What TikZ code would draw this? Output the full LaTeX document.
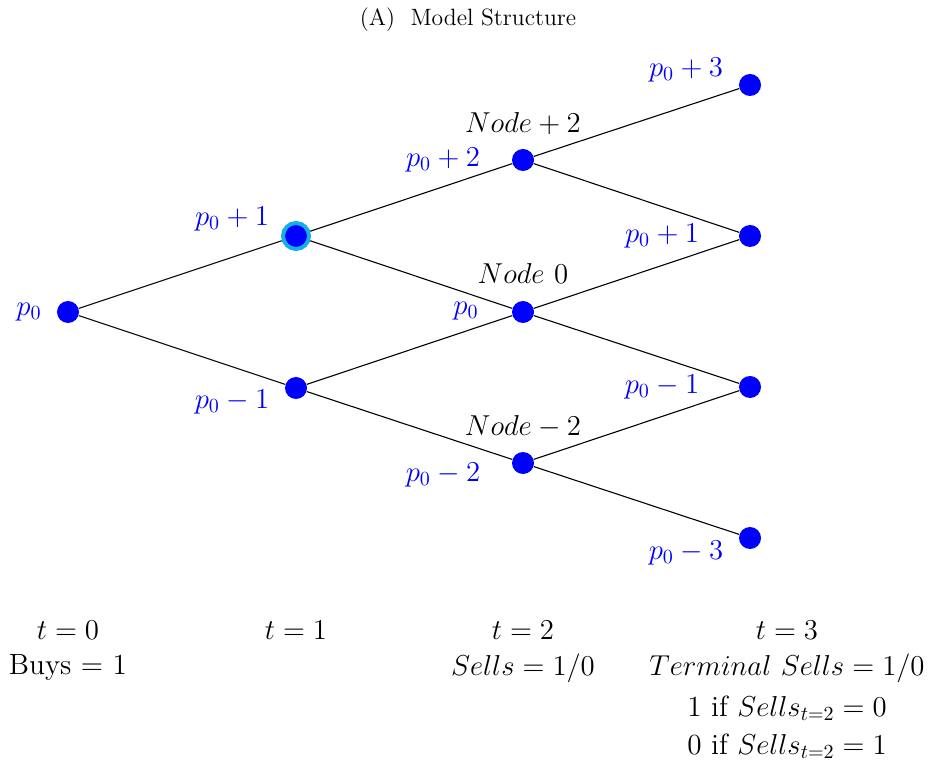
\documentclass[tikz,border=0pt]{standalone}
\usepackage{amsmath}
\begin{document}
\begin{tikzpicture}[x=0.5pt,y=-0.5pt,
  dot/.style={circle,fill=blue,inner sep=0pt,minimum size=11pt},
  hidot/.style={circle,fill=blue,draw={rgb,255:red,20;green,175;blue,230},line width=2pt,inner sep=0pt,minimum size=13pt},
  edge/.style={draw=black,line width=0.55pt},
  plab/.style={text=blue,font=\fontsize{14.8}{17}\selectfont,inner sep=0pt},
  nlab/.style={text=black,font=\fontsize{14.8}{17}\selectfont,inner sep=0pt},
  blab/.style={text=black,font=\fontsize{14.6}{17}\selectfont,inner sep=0pt,align=center}]
\useasboundingbox (0,0) rectangle (929,763);
\node[font=\fontsize{11.8}{14}\selectfont] (title) at (468,20) {(A)\ \ Model Structure};
% nodes
\node[dot] (a) at (68,312) {};
\node[hidot] (b1) at (296,236) {};
\node[dot] (b2) at (296,388) {};
\node[dot] (c1) at (523,160) {};
\node[dot] (c2) at (523,312) {};
\node[dot] (c3) at (523,463) {};
\node[dot] (d1) at (750,85) {};
\node[dot] (d2) at (750,236) {};
\node[dot] (d3) at (750,387) {};
\node[dot] (d4) at (750,538) {};
% edges
\draw[edge] (a) -- (b1);
\draw[edge] (a) -- (b2);
\draw[edge] (b1) -- (c1);
\draw[edge] (b1) -- (c2);
\draw[edge] (b2) -- (c2);
\draw[edge] (b2) -- (c3);
\draw[edge] (c1) -- (d1);
\draw[edge] (c1) -- (d2);
\draw[edge] (c2) -- (d2);
\draw[edge] (c2) -- (d3);
\draw[edge] (c3) -- (d3);
\draw[edge] (c3) -- (d4);
% price labels
\node[plab] (la) at (29,312) {$p_0$};
\node[plab] (lb1) at (232,219) {$p_0+1$};
\node[plab] (lb2) at (232,402) {$p_0-1$};
\node[plab] (lc1) at (443,160) {$p_0+2$};
\node[plab] (lc2) at (466,311) {$p_0$};
\node[plab] (lc3) at (443,475) {$p_0-2$};
\node[plab] (ld1) at (686,70) {$p_0+3$};
\node[plab] (ld2) at (662,236) {$p_0+1$};
\node[plab] (ld3) at (662,387) {$p_0-1$};
\node[plab] (ld4) at (686,553) {$p_0-3$};
% node names
\node[nlab] (n1) at (523,124) {$Node+2$};
\node[nlab] (n2) at (523,274) {$Node\ 0$};
\node[nlab] (n3) at (523,427) {$Node-2$};
% bottom
\node[blab] (t0) at (68,630) {$t=0$};
\node[blab] (buy) at (68,668) {Buys = 1};
\node[blab] (t1) at (296,630) {$t=1$};
\node[blab] (t2) at (523,630) {$t=2$};
\node[blab] (sell) at (523,668) {$Sells=1/0$};
\node[blab] (t3) at (787,630) {$t=3$};
\node[blab] (ts) at (787,668) {$Terminal\ Sells=1/0$};
\node[blab] (if1) at (787,708) {1 if $Sells_{t=2}=0$};
\node[blab] (if2) at (787,746) {0 if $Sells_{t=2}=1$};
\end{tikzpicture}
\end{document}
